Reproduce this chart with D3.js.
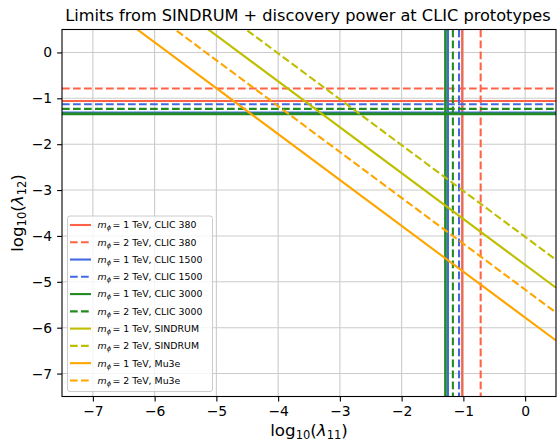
<!DOCTYPE html>
<html>
<head>
<meta charset="utf-8">
<script src="https://cdn.jsdelivr.net/npm/d3@7"></script>
<style>
  body { margin: 0; background: #fff; }
  text { font-family: "DejaVu Sans", sans-serif; }
</style>
</head>
<body>
<script>
// tick values on both axes
var xTicks = [-7, -6, -5, -4, -3, -2, -1, 0];
var yTicks = [-7, -6, -5, -4, -3, -2, -1, 0];

// CLIC prototypes: limit on log10(lambda12) (horizontal) and log10(lambda11) (vertical)
var clicNames = ["CLIC 380", "CLIC 380", "CLIC 1500", "CLIC 1500", "CLIC 3000", "CLIC 3000"];
var clicMass = ["1", "2", "1", "2", "1", "2"];
var clicH = [-1.06, -0.785, -1.31, -1.13, -1.34, -1.23];
var clicV = [-1.02, -0.72, -1.25, -1.07, -1.29, -1.17];

// SINDRUM / Mu3e: line end points (at log10(lambda11) = -7.5 and 0.5)
var diagNames = ["SINDRUM", "SINDRUM", "Mu3e", "Mu3e"];
var diagMass = ["1", "2", "1", "2"];
var diagX = [-7.5, 0.5];
var sindrum1 = [2.87, -5.13];
var sindrum2 = [3.48, -4.52];
var mu3e1 = [1.72, -6.28];
var mu3e2 = [2.33, -5.67];
var diagY = [sindrum1, sindrum2, mu3e1, mu3e2];

var clicColors = ["#ff6347", "#ff6347", "#4169e1", "#4169e1", "#228b22", "#228b22"];
var diagColors = ["#bfbf00", "#bfbf00", "#ffa500", "#ffa500"];
var dash = "7.7,3.3";

var W = 560, H = 442;
var svg = d3.select("body").append("svg")
    .attr("width", W)
    .attr("height", H);

var x = d3.scaleLinear().domain([-7.5, 0.5]).range([62, 556]);
var y = d3.scaleLinear().domain([-7.5, 0.5]).range([396.5, 29.5]);

svg.append("clipPath").attr("id", "clip")
  .append("rect")
    .attr("x", 62).attr("y", 29.5)
    .attr("width", 494).attr("height", 367);

// grid
var grid = svg.append("g");
grid.selectAll(".gx").data(xTicks).enter().append("line")
    .attr("x1", function(d) { return x(d); }).attr("x2", function(d) { return x(d); })
    .attr("y1", y(0.5)).attr("y2", y(-7.5))
    .attr("stroke", "#cbcbcb").attr("stroke-width", 1.1);
grid.selectAll(".gy").data(yTicks).enter().append("line")
    .attr("y1", function(d) { return y(d); }).attr("y2", function(d) { return y(d); })
    .attr("x1", x(-7.5)).attr("x2", x(0.5))
    .attr("stroke", "#cbcbcb").attr("stroke-width", 1.1);

var plot = svg.append("g").attr("clip-path", "url(#clip)");

// CLIC horizontal + vertical limits (the 1 TeV CLIC 3000 one looks a bit heavier)
clicH.forEach(function(v, i) {
  var w = i === 4 ? 2.7 : 2.1;
  plot.append("line")
    .attr("x1", x(-7.5)).attr("x2", x(0.5))
    .attr("y1", y(v)).attr("y2", y(v))
    .attr("stroke", clicColors[i]).attr("stroke-width", w)
    .attr("stroke-dasharray", i % 2 ? dash : null);
  plot.append("line")
    .attr("x1", x(clicV[i])).attr("x2", x(clicV[i]))
    .attr("y1", y(0.5)).attr("y2", y(-7.5))
    .attr("stroke", clicColors[i]).attr("stroke-width", w)
    .attr("stroke-dasharray", i % 2 ? dash : null);
});

// SINDRUM and Mu3e lines
var line = d3.line()
  .x(function(d) { return x(d[0]); })
  .y(function(d) { return y(d[1]); });
diagY.forEach(function(ys, i) {
  plot.append("path")
    .datum(diagX.map(function(xv, j) { return [xv, ys[j]]; }))
    .attr("d", line)
    .attr("fill", "none")
    .attr("stroke", diagColors[i]).attr("stroke-width", 2.1)
    .attr("stroke-dasharray", i % 2 ? dash : null);
});

// axes
var xAxis = svg.append("g")
    .attr("transform", "translate(0," + y(-7.5) + ")")
    .call(d3.axisBottom(x).tickValues(xTicks).tickSize(4.9).tickPadding(4.9).tickSizeOuter(0));
var yAxis = svg.append("g")
    .attr("transform", "translate(" + x(-7.5) + ",0)")
    .call(d3.axisLeft(y).tickValues(yTicks).tickSize(4.9).tickPadding(4.9).tickSizeOuter(0));
[xAxis, yAxis].forEach(function(a) {
  a.selectAll("text").style("font-size", "13.9px").attr("fill", "#000")
    .style("font-family", "DejaVu Sans");
  a.selectAll("line").attr("stroke", "#000").attr("stroke-width", 1.1);
  a.select(".domain").remove();
});

// frame
svg.append("rect")
    .attr("x", 62).attr("y", 29.5)
    .attr("width", 494).attr("height", 367)
    .attr("fill", "none").attr("stroke", "#000").attr("stroke-width", 1.1);

// title and axis labels
svg.append("text")
    .attr("x", 308).attr("y", 21)
    .attr("text-anchor", "middle")
    .style("font-size", "16.2px")
    .text("Limits from SINDRUM + discovery power at CLIC prototypes");

function logLabel(t, sub) {
  t.append("tspan").text("log");
  t.append("tspan").attr("baseline-shift", "-25%").style("font-size", "11.5px").text("10");
  t.append("tspan").text("(");
  t.append("tspan").style("font-style", "italic").text("λ");
  t.append("tspan").attr("baseline-shift", "-25%").style("font-size", "11.5px").text(sub);
  t.append("tspan").text(")");
}
var xl = svg.append("text")
    .attr("x", 309).attr("y", 436)
    .attr("text-anchor", "middle")
    .style("font-size", "16.7px");
logLabel(xl, "11");
var yl = svg.append("text")
    .attr("transform", "translate(23," + y(-3.5) + ") rotate(-90)")
    .attr("text-anchor", "middle")
    .style("font-size", "16.7px");
logLabel(yl, "12");

// legend
var legend = svg.append("g");
legend.append("rect")
    .attr("x", 67.5).attr("y", 216)
    .attr("width", 145).attr("height", 175.5)
    .attr("rx", 2.5)
    .attr("fill", "#fff").attr("fill-opacity", 0.8)
    .attr("stroke", "#cccccc").attr("stroke-width", 1);

var entries = clicNames.map(function(n, i) {
  return { name: n, mass: clicMass[i], color: clicColors[i], dashed: i % 2 === 1 };
}).concat(diagNames.map(function(n, i) {
  return { name: n, mass: diagMass[i], color: diagColors[i], dashed: i % 2 === 1 };
}));

entries.forEach(function(e, i) {
  var cy = 225 + i * 17.27;
  legend.append("line")
    .attr("x1", 70).attr("x2", 91)
    .attr("y1", cy).attr("y2", cy)
    .attr("stroke", e.color).attr("stroke-width", 2.1)
    .attr("stroke-dasharray", e.dashed ? dash : null);
  var t = legend.append("text")
    .attr("x", 97.5).attr("y", cy + 3.4)
    .style("font-size", "9.4px");
  t.append("tspan").style("font-style", "italic").text("m");
  t.append("tspan").attr("baseline-shift", "-25%").style("font-size", "6.6px")
    .style("font-style", "italic").text("ϕ");
  t.append("tspan").attr("dx", 1.5).text("= " + e.mass + " TeV, " + e.name);
});
</script>
</body>
</html>
